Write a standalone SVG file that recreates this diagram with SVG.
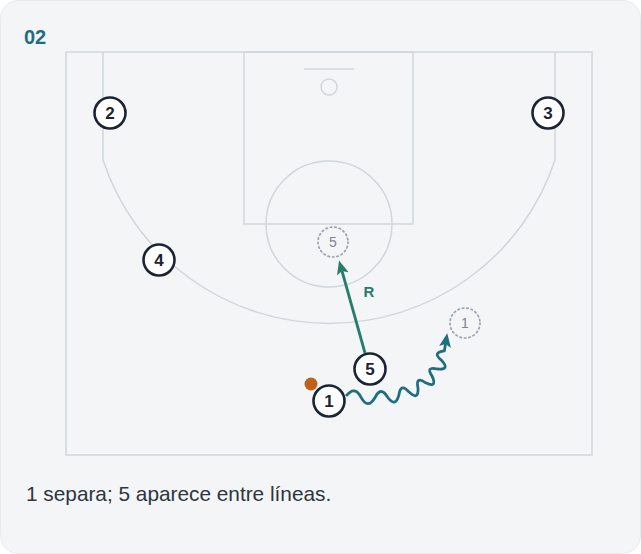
<svg xmlns="http://www.w3.org/2000/svg" width="641" height="554" viewBox="0 0 641 554">
  <style>
    .court { fill: none; stroke: #cfd7dd; stroke-width: 1.5; }
    .player circle { fill: #ffffff; stroke: #1a2433; stroke-width: 2.6; }
    .player text { font-family: "Liberation Sans", Arial, sans-serif; font-size: 17px; font-weight: bold; fill: #1a2433; text-anchor: middle; }
    .ghost circle { fill: none; stroke: #9aa3ad; stroke-width: 1.7; stroke-dasharray: 1.5 3; stroke-linecap: round; }
    .ghost text { font-family: "Liberation Sans", Arial, sans-serif; font-size: 14px; fill: #7d8690; text-anchor: middle; }
  </style>
  <defs>
    <marker id="headG" viewBox="0 0 14 12" refX="3" refY="6" markerWidth="14" markerHeight="12" markerUnits="userSpaceOnUse" orient="auto">
      <path d="M0,0 L14,6 L0,12 L3,6 Z" fill="#267d6c"/>
    </marker>
    <marker id="headB" viewBox="0 0 14 12" refX="3" refY="6" markerWidth="14" markerHeight="12" markerUnits="userSpaceOnUse" orient="auto">
      <path d="M0,0 L14,6 L0,12 L3,6 Z" fill="#1f6e80"/>
    </marker>
  </defs>
  <rect x="0" y="0" width="641" height="554" fill="#ffffff"/>
  <rect x="0.5" y="0.5" width="640" height="553" rx="18" fill="#f3f5f7" stroke="#e8ebee"/>
  <text x="24" y="44" font-family="Liberation Sans, Arial, sans-serif" font-size="20" font-weight="bold" fill="#1f6e80">02</text>

  <g id="court">
    <rect class="court" x="66" y="52" width="526" height="403"/>
    <rect class="court" x="244" y="52" width="169" height="172"/>
    <line class="court" x1="304" y1="69" x2="354" y2="69"/>
    <circle class="court" cx="329" cy="87" r="8"/>
    <circle class="court" cx="329" cy="224" r="63"/>
    <path class="court" d="M103,52 L103,160 A238,238 0 0 0 555,160 L555,52"/>
  </g>

  <g id="connectors">
    <line x1="365" y1="353" x2="342" y2="271" stroke="#267d6c" stroke-width="2.8" marker-end="url(#headG)"/>
    <path d="M346,396 Q354.8,384.9 361.1,397.4 Q367.8,409.8 374.9,397.8 Q380.6,385.6 387.5,397 Q395.3,408 398.9,395.1 Q400.7,382.2 409.1,392.1 Q418.7,401.1 418,388 Q415.3,375.6 425.7,382.8 Q437.5,388.3 432.2,376.4 Q425.2,365.9 437.5,369 Q450.5,370 441.6,360.4 Q431.6,352.4 444.4,350.8 L445.5,344" fill="none" stroke="#1f6e80" stroke-width="2.8" stroke-linejoin="round" marker-end="url(#headB)"/>
    <text x="369" y="297" font-family="Liberation Sans, Arial, sans-serif" font-size="15" font-weight="bold" fill="#267d6c" text-anchor="middle">R</text>
  </g>

  <g id="ghost-5" class="ghost"><circle cx="333" cy="242" r="15"/><text x="333" y="247">5</text></g>
  <g id="ghost-1" class="ghost"><circle cx="465" cy="323" r="15"/><text x="465" y="328">1</text></g>

  <g id="player-2" class="player"><circle cx="110" cy="113" r="15.5"/><text x="110" y="119">2</text></g>
  <g id="player-3" class="player"><circle cx="548" cy="113" r="15.5"/><text x="548" y="119">3</text></g>
  <g id="player-4" class="player"><circle cx="159" cy="260" r="15.5"/><text x="159" y="266">4</text></g>
  <g id="player-5" class="player"><circle cx="370" cy="369" r="15.5"/><text x="370" y="375">5</text></g>
  <g id="player-1" class="player"><circle cx="329" cy="401" r="15.5"/><text x="329" y="407">1</text></g>
  <circle id="ball" cx="311" cy="384" r="6.5" fill="#c0601a"/>

  <text x="26" y="501" font-family="Liberation Sans, Arial, sans-serif" font-size="20.8" fill="#2d3540">1 separa; 5 aparece entre líneas.</text>
</svg>
